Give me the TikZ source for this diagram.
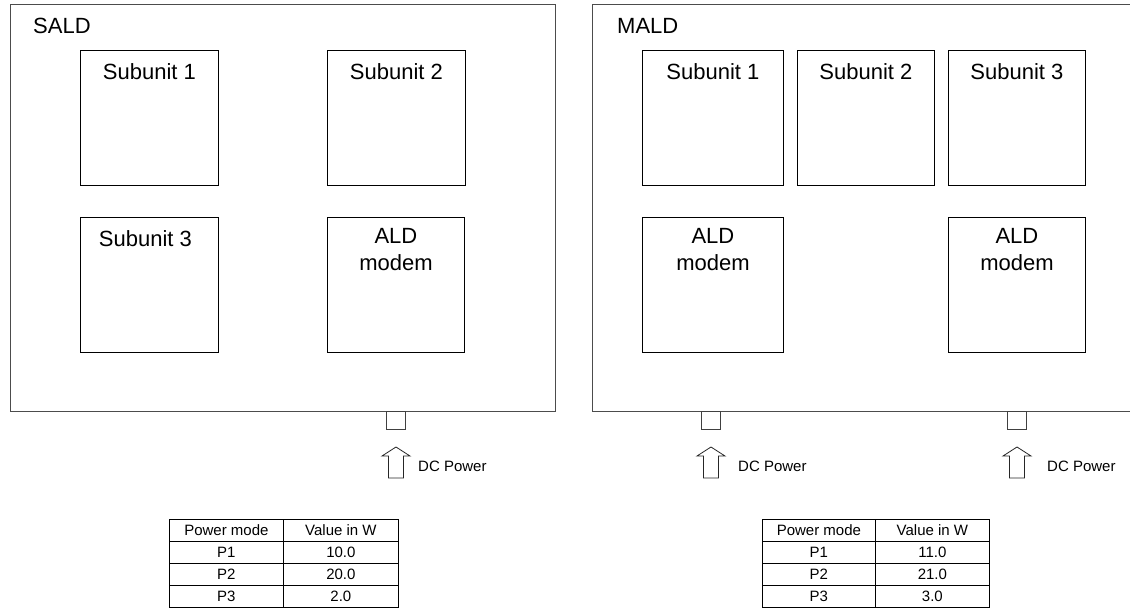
\documentclass[tikz,border=0pt]{standalone}
\usepackage{fontspec}
\setmainfont{Liberation Sans}
\begin{document}
\begin{tikzpicture}[x=1pt,y=-1pt,
  outer/.style={draw=black!70, line width=1.1pt, anchor=north west, inner sep=0pt},
  unitbox/.style={draw=black, line width=0.9pt, anchor=north west, inner sep=0pt, minimum height=135pt},
  big/.style={font=\fontsize{22}{27}\selectfont, inner sep=0pt},
  small/.style={font=\fontsize{15}{18}\selectfont, inner sep=0pt},
  port/.style={draw=black!75, line width=0.9pt, anchor=north, minimum width=19pt, minimum height=18pt, inner sep=0pt},
  cell/.style={draw=black, line width=0.8pt, anchor=north west, inner sep=0pt, minimum height=22pt, font=\fontsize{15}{17}\selectfont},
  pics/uparrow/.style={code={\draw[line width=0.8pt, draw=black!85] (0,0) -- (14,9) -- (7.5,9) -- (7.5,31) -- (-7.5,31) -- (-7.5,9) -- (-14,9) -- cycle;}}
]
\useasboundingbox (0,0) rectangle (1130,609);

% outer frames
\node[outer, minimum width=545pt, minimum height=407pt] (sald) at (10,4) {};
\begin{scope}
\clip (0,0) rectangle (1130,609);
\node[outer, minimum width=545pt, minimum height=407pt] (mald) at (592,4) {};
\end{scope}
\node[big, anchor=west] (saldlbl) at (33,26) {SALD};
\node[big, anchor=west] (maldlbl) at (617,26) {MALD};

% SALD units
\node[unitbox, minimum width=138pt] (s1) at (80,50) {};
\node[unitbox, minimum width=138pt] (s2) at (327,50) {};
\node[unitbox, minimum width=138pt] (s3) at (80,217) {};
\node[unitbox, minimum width=137pt] (smod) at (327,217) {};
\node[big, anchor=north] (s1l) at ([yshift=-13pt]s1.north) {Subunit 1};
\node[big, anchor=north] (s2l) at ([yshift=-13pt]s2.north) {Subunit 2};
\node[big, anchor=north] (s3l) at ([xshift=-4pt,yshift=-13pt]s3.north) {Subunit 3};
\node[big, anchor=north, align=center] (smodl) at ([yshift=-11pt]smod.north) {ALD\\modem};

% MALD units
\node[unitbox, minimum width=141pt] (m1) at (642,50) {};
\node[unitbox, minimum width=137pt] (m2) at (797,50) {};
\node[unitbox, minimum width=137pt] (m3) at (948,50) {};
\node[unitbox, minimum width=141pt] (mmod1) at (642,217) {};
\node[unitbox, minimum width=137pt] (mmod3) at (948,217) {};
\node[big, anchor=north] (m1l) at ([yshift=-13pt]m1.north) {Subunit 1};
\node[big, anchor=north] (m2l) at ([yshift=-13pt]m2.north) {Subunit 2};
\node[big, anchor=north] (m3l) at ([yshift=-13pt]m3.north) {Subunit 3};
\node[big, anchor=north, align=center] (mmod1l) at ([yshift=-11pt]mmod1.north) {ALD\\modem};
\node[big, anchor=north, align=center] (mmod3l) at ([yshift=-11pt]mmod3.north) {ALD\\modem};

% ports
\node[port] (sp) at (395.5,411) {};
\node[port] (mp1) at (710.5,411) {};
\node[port] (mp3) at (1016.5,411) {};

% DC power arrows
\pic (sa) at (396,447) {uparrow};
\pic (ma1) at (711,447) {uparrow};
\pic (ma3) at (1017,447) {uparrow};
\node[small, anchor=west] (sdc) at (418,466) {DC Power};
\node[small, anchor=west] (mdc1) at (738,466) {DC Power};
\node[small, anchor=west] (mdc3) at (1047,466) {DC Power};

% tables
\foreach \a/\b [count=\i from 0] in {{Power mode}/{Value in W},P1/10.0,P2/20.0,P3/2.0}{
  \node[cell, minimum width=114pt] (sta\i) at (169,{519+22*\i}) {\a};
  \node[cell, minimum width=115pt] (stb\i) at (283,{519+22*\i}) {\b};
}
\foreach \a/\b [count=\i from 0] in {{Power mode}/{Value in W},P1/11.0,P2/21.0,P3/3.0}{
  \node[cell, minimum width=113pt] (mta\i) at (762,{519+22*\i}) {\a};
  \node[cell, minimum width=114pt] (mtb\i) at (875,{519+22*\i}) {\b};
}
\end{tikzpicture}
\end{document}
